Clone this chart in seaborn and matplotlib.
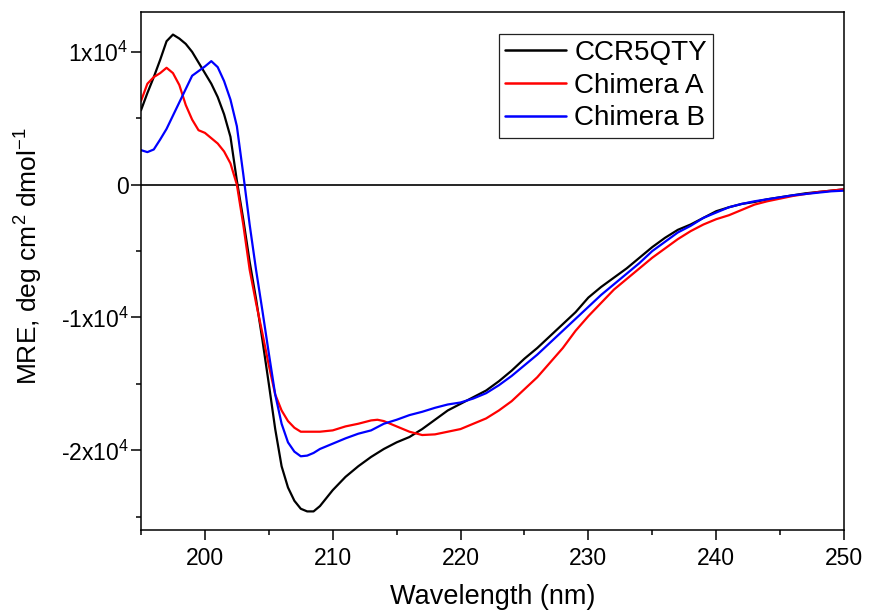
import numpy as np
import pandas as pd
import matplotlib
matplotlib.use("Agg")
import matplotlib.pyplot as plt
import seaborn as sns
from matplotlib.ticker import FixedLocator, FixedFormatter, MultipleLocator

# ---------------- data ----------------
wl_ccr5 = [195.0, 195.5, 196.0, 196.5, 197.0, 197.5, 198.0, 198.5, 199.0, 199.5,
           200.0, 200.5, 201.0, 201.5, 202.0, 202.5, 203.0, 203.5, 204.0, 204.5,
           205.0, 205.5, 206.0, 206.5, 207.0, 207.5, 208.0, 208.5, 209.0, 209.5,
           210.0, 211.0, 212.0, 213.0, 214.0, 215.0, 216.0, 217.0, 218.0, 219.0,
           220.0, 221.0, 222.0, 223.0, 224.0, 225.0, 226.0, 227.0, 228.0, 229.0,
           230.0, 231.0, 232.0, 233.0, 234.0, 235.0, 236.0, 237.0, 238.0, 239.0,
           240.0, 241.0, 242.0, 243.0, 244.0, 245.0, 246.0, 247.0, 248.0, 249.0, 250.0]
mre_ccr5 = [5600, 6900, 8100, 9400, 10800, 11300, 11000, 10600, 10000, 9200,
            8400, 7600, 6600, 5300, 3600, 300, -2600, -5800, -8600, -11700,
            -15000, -18400, -21200, -22800, -23800, -24400, -24600, -24600, -24200, -23600,
            -23000, -22000, -21200, -20500, -19900, -19400, -19000, -18400, -17700, -17000,
            -16500, -16000, -15500, -14800, -14000, -13100, -12300, -11400, -10500, -9600,
            -8500, -7700, -7000, -6300, -5500, -4700, -4000, -3400, -3000, -2500,
            -2000, -1700, -1450, -1300, -1100, -950, -800, -650, -550, -450, -350]

wl_chim_a = [195.0, 195.5, 196.0, 196.5, 197.0, 197.5, 198.0, 198.5, 199.0, 199.5,
             200.0, 200.5, 201.0, 201.5, 202.0, 202.5, 203.0, 203.5, 204.0, 204.5,
             205.0, 205.5, 206.0, 206.5, 207.0, 207.5, 208.0, 208.5, 209.0, 210.0,
             211.0, 212.0, 213.0, 213.5, 214.0, 215.0, 216.0, 217.0, 218.0, 219.0,
             220.0, 221.0, 222.0, 223.0, 224.0, 225.0, 226.0, 227.0, 228.0, 229.0,
             230.0, 231.0, 232.0, 233.0, 234.0, 235.0, 236.0, 237.0, 238.0, 239.0,
             240.0, 241.0, 242.0, 243.0, 244.0, 245.0, 246.0, 247.0, 248.0, 249.0, 250.0]
mre_chim_a = [6300, 7600, 8100, 8400, 8800, 8400, 7500, 6000, 4900, 4100,
              3900, 3500, 3100, 2500, 1600, 0, -3000, -6400, -8900, -11200,
              -13600, -15800, -17000, -17800, -18300, -18600, -18600, -18600, -18600, -18500,
              -18200, -18000, -17750, -17700, -17800, -18200, -18600, -18850, -18800, -18600,
              -18400, -18000, -17600, -17000, -16300, -15400, -14500, -13400, -12300, -11000,
              -9900, -8900, -7900, -7100, -6300, -5500, -4800, -4100, -3500, -3000,
              -2600, -2300, -1900, -1500, -1250, -1050, -850, -700, -550, -450, -350]

wl_chim_b = [195.0, 195.5, 196.0, 196.5, 197.0, 197.5, 198.0, 198.5, 199.0, 199.5,
             200.0, 200.5, 201.0, 201.5, 202.0, 202.5, 203.0, 203.5, 204.0, 204.5,
             205.0, 205.5, 206.0, 206.5, 207.0, 207.5, 208.0, 208.5, 209.0, 209.5,
             210.0, 211.0, 212.0, 213.0, 214.0, 215.0, 216.0, 217.0, 218.0, 219.0,
             220.0, 221.0, 222.0, 223.0, 224.0, 225.0, 226.0, 227.0, 228.0, 229.0,
             230.0, 231.0, 232.0, 233.0, 234.0, 235.0, 236.0, 237.0, 238.0, 239.0,
             240.0, 241.0, 242.0, 243.0, 244.0, 245.0, 246.0, 247.0, 248.0, 249.0, 250.0]
mre_chim_b = [2600, 2450, 2650, 3400, 4200, 5200, 6200, 7200, 8200, 8550,
              8900, 9300, 8850, 7800, 6400, 4400, 800, -3000, -6400, -9500,
              -12700, -15800, -18000, -19400, -20100, -20450, -20400, -20200, -19900, -19700,
              -19500, -19100, -18750, -18500, -18000, -17700, -17350, -17100, -16800, -16550,
              -16400, -16100, -15700, -15100, -14400, -13600, -12800, -11900, -11000, -10100,
              -9200, -8300, -7500, -6700, -5900, -5000, -4300, -3600, -3100, -2500,
              -2100, -1700, -1450, -1250, -1100, -950, -800, -700, -600, -500, -450]

series_names = ["CCR5QTY", "Chimera A", "Chimera B"]
series_colors = ["#000000", "#ff0000", "#0000ff"]

x_major = [200, 210, 220, 230, 240, 250]
x_labels = ["200", "210", "220", "230", "240", "250"]
y_major = [-20000, -10000, 0, 10000]
y_labels = [r"-2x10$^{4}$", r"-1x10$^{4}$", "0", r"1x10$^{4}$"]

# ---------------- build table ----------------
frames = []
for name, wl, mre in zip(series_names,
                         [wl_ccr5, wl_chim_a, wl_chim_b],
                         [mre_ccr5, mre_chim_a, mre_chim_b]):
    frames.append(pd.DataFrame({"Wavelength": wl, "MRE": mre, "Sample": name}))
df = pd.concat(frames, ignore_index=True)

# ---------------- style ----------------
sns.set_style("ticks")
plt.rcParams["font.family"] = ["Liberation Sans", "DejaVu Sans"]
plt.rcParams["mathtext.fontset"] = "custom"
plt.rcParams["mathtext.rm"] = "Liberation Sans"
plt.rcParams["mathtext.it"] = "Liberation Sans:italic"
plt.rcParams["mathtext.bf"] = "Liberation Sans:bold"
plt.rcParams["mathtext.default"] = "regular"
plt.rcParams["text.color"] = "black"
plt.rcParams["axes.labelcolor"] = "black"
plt.rcParams["xtick.color"] = "black"
plt.rcParams["ytick.color"] = "black"
plt.rcParams["axes.edgecolor"] = "black"

fig = plt.figure(figsize=(8.69, 6.15), dpi=100)
ax = fig.add_axes([141 / 869, 85 / 615, 703 / 869, 518 / 615])

ax.axhline(0, color="black", lw=1.2, zorder=1)

sns.lineplot(data=df, x="Wavelength", y="MRE", hue="Sample",
             hue_order=series_names, palette=series_colors,
             linewidth=1.6, ax=ax, legend=True, estimator=None, sort=False)

ax.set_xlim(195, 250)
ax.set_ylim(-26000, 13000)

ax.xaxis.set_major_locator(FixedLocator(x_major))
ax.xaxis.set_major_formatter(FixedFormatter(x_labels))
ax.xaxis.set_minor_locator(MultipleLocator(5))
ax.yaxis.set_major_locator(FixedLocator(y_major))
ax.yaxis.set_major_formatter(FixedFormatter(y_labels))
ax.yaxis.set_minor_locator(MultipleLocator(5000))

ax.tick_params(axis="both", which="major", direction="out", length=7, width=1.1,
               labelsize=16.5, colors="black")
ax.tick_params(axis="both", which="minor", direction="out", length=3.8, width=1.1)
ax.tick_params(axis="x", which="major", pad=5)
ax.tick_params(axis="y", which="major", pad=2)
ax.tick_params(top=False, right=False, which="both")

for sp in ax.spines.values():
    sp.set_visible(True)
    sp.set_linewidth(1.1)
    sp.set_color("black")

ax.set_xlabel("Wavelength (nm)", fontsize=19.5, color="black")
ax.set_ylabel(r"MRE, deg cm$^{2}$ dmol$^{-1}$", fontsize=19, color="black")
ax.xaxis.set_label_coords(0.5, -0.104)
ax.yaxis.set_label_coords(-0.136, 0.529)

handles, labels = ax.get_legend_handles_labels()
leg = ax.legend(handles, labels, loc="upper left", bbox_to_anchor=(0.509, 0.9575),
                borderaxespad=0, fontsize=20, frameon=True, fancybox=False,
                edgecolor="#222222", framealpha=1, handlelength=2.2,
                handletextpad=0.3, labelspacing=0.24, borderpad=0.22)
leg.get_frame().set_linewidth(0.9)
for line in leg.get_lines():
    line.set_linewidth(1.8)
for t in leg.get_texts():
    t.set_color("black")

fig.savefig("out.png", dpi=100)
